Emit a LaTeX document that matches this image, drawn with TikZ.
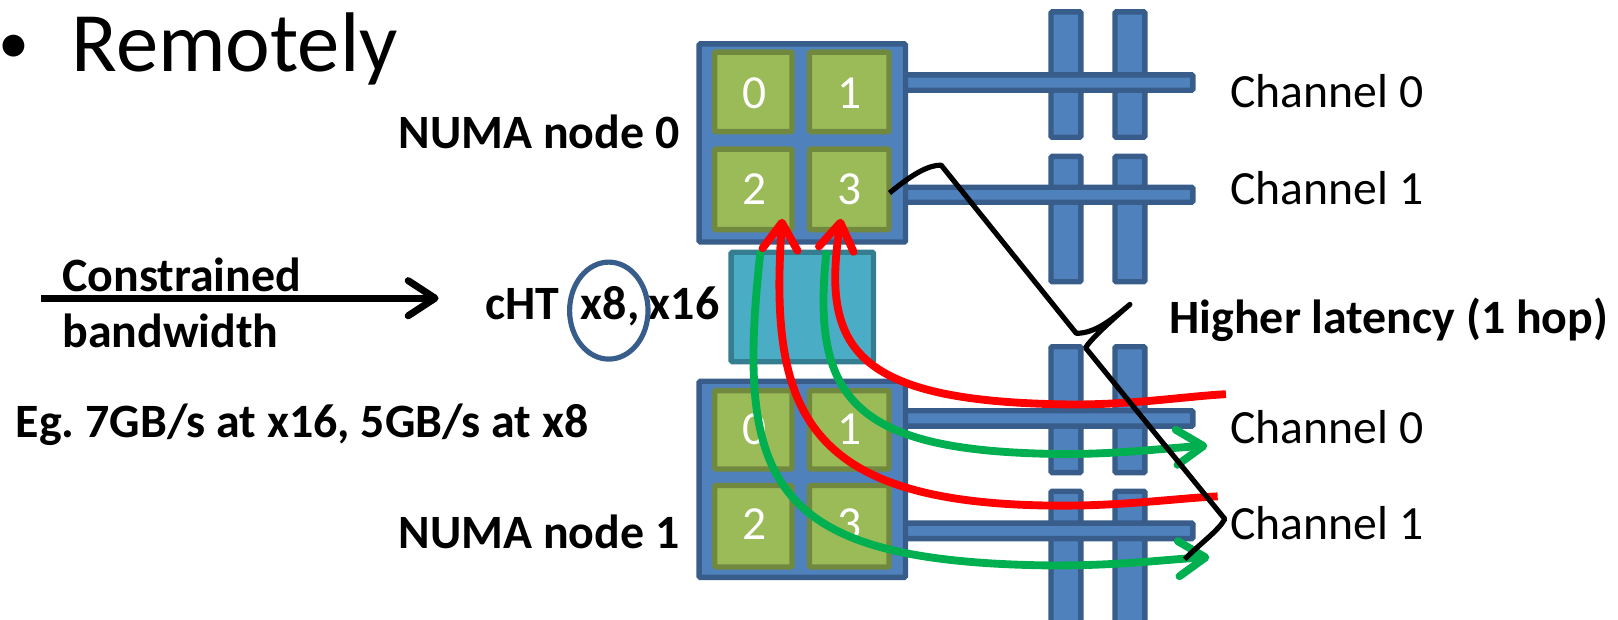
\documentclass[tikz,border=0pt]{standalone}
\usepackage{fontspec}
\setmainfont{Carlito}
\usetikzlibrary{arrows.meta,shapes.geometric}
\frenchspacing
\tikzset{
 lbl/.style={inner sep=0pt,anchor=base west,text=black,font=\fontsize{23.1}{27}\selectfont},
 blbl/.style={inner sep=0pt,anchor=base west,text=black,font=\bfseries\fontsize{23.2}{27}\selectfont},
 digit/.style={inner sep=0pt,anchor=center,text=white,font=\fontsize{23}{27}\selectfont},
 bluebar/.style={draw=barline,fill=barfill,line width=2.6pt,rounded corners=0.6pt},
 core/.style={draw=coreline,fill=corefill,line width=2.6pt,rounded corners=0.6pt},
 link/.style={draw=linkline,fill=linkfill,line width=2.6pt,rounded corners=0.6pt},
 redflow/.style={draw=redc,line width=3.8pt,{Straight Barb[length=13pt,width=17pt,round]}-},
 greenflow/.style={draw=greenc,line width=3.8pt,-{Straight Barb[length=13pt,width=17pt,round]}},
 bracepath/.style={draw=black,line width=2.5pt,line join=round},
}
\definecolor{barline}{HTML}{385D8A}
\definecolor{barfill}{HTML}{4F81BD}
\definecolor{coreline}{HTML}{71893F}
\definecolor{corefill}{HTML}{9BBB59}
\definecolor{linkline}{HTML}{357D91}
\definecolor{linkfill}{HTML}{4BACC6}
\definecolor{redc}{HTML}{FF0000}
\definecolor{greenc}{HTML}{00B050}
\begin{document}
\begin{tikzpicture}[x=0.5pt,y=-0.5pt]
\useasboundingbox (0,0) rectangle (1568,600.8);
% vertical memory bars
\foreach \xa/\xb in {1018.5/1047.5,1080.5/1109.5}{
 \foreach \ya/\yb in {11.5/133,151.5/273,336/458,476/612}{
  \draw[bluebar] (\xa,\ya) rectangle (\xb,\yb);
 }
}
% horizontal channels
\foreach \ya/\yb in {72.5/87.5,181.5/196,398/413,507/522}{
 \draw[bluebar] (875,\ya) rectangle (1156,\yb);
}
% NUMA boxes
\draw[bluebar] (677.5,42.5) rectangle (877.5,234.5);
\draw[bluebar] (677.5,369.5) rectangle (877.5,559.5);
\foreach \ya/\yb in {50.5/127.5,144.5/222.5,378.5/454.5,470.5/549.5}{
 \draw[core] (692.5,\ya) rectangle (767.5,\yb);
 \draw[core] (784.5,\ya) rectangle (861.5,\yb);
}
\draw[link] (708.5,244.5) rectangle (846.5,350.5);
% digits
\node[digit] (a0) at (731,90) {0};
\node[digit] (a1) at (823,90) {1};
\node[digit] (a2) at (731,183) {2};
\node[digit] (a3) at (823,183) {3};
\node[digit] (b0) at (731,416) {0};
\node[digit] (b1) at (823,416) {1};
\node[digit] (b2) at (731,508) {2};
\node[digit] (b3) at (823,508) {3};
% text
\node[inner sep=0pt,anchor=base west,font=\fontsize{30}{36}\selectfont] (title) at (-2,62) {•};
\node[inner sep=0pt,anchor=base west,font=\fontsize{41}{46}\selectfont] (remote) at (69,69) {Remotely};
\node[blbl] (numa0) at (386,143.5) {NUMA node 0};
\node[blbl] (numa1) at (386,532) {NUMA node 1};
\node[lbl] (ch0) at (1192,104) {Channel 0};
\node[lbl] (ch1) at (1192,198) {Channel 1};
\node[lbl] (ch2) at (1192,430) {Channel 0};
\node[lbl] (ch3) at (1192,523) {Channel 1};
\node[blbl] (hl) at (1133,323) {Higher latency (1 hop)};
\node[blbl] (con) at (60,282) {Constrained};
\node[blbl] (bw) at (60,337) {bandwidth};
\node[blbl] (cht) at (470,310) {cHT\hspace{10.5pt}x8,\hspace{4.5pt}x16};
\node[blbl] (eg) at (15,424) {Eg. 7GB/s at x16, 5GB/s at x8};
% ellipse
\node[draw=barline,line width=2.5pt,ellipse,minimum width=38pt,minimum height=47pt,inner sep=0pt] (ring) at (590,301) {};
% constrained arrow
\coordinate (cs) at (40,289);
\coordinate (ce) at (425,289);
\draw[black,line width=3.4pt,-{Straight Barb[length=13pt,width=17pt,round]}] (cs) -- (ce);
% green flows
\coordinate (g1s) at (737,243);
\coordinate (g1m) at (1020,548);
\coordinate (g1e) at (1172,540);
\coordinate (g2s) at (801,243);
\coordinate (g2m) at (1030,440);
\coordinate (g2e) at (1170,432);
\draw[greenflow] (g1s) .. controls (712,470) and (745,545) .. (g1m) .. controls (1090,548) and (1130,542) .. (g1e);
\draw[greenflow] (g2s) .. controls (785,390) and (830,438) .. (g2m) .. controls (1090,440) and (1130,434) .. (g2e);
% red flows
\coordinate (r1s) at (758,212);
\coordinate (r1m) at (1030,490);
\coordinate (r1e) at (1180,481);
\coordinate (r2s) at (815,212);
\coordinate (r2m) at (1040,392);
\coordinate (r2e) at (1188,382);
\draw[redflow] (r1s) .. controls (745,400) and (780,490) .. (r1m) .. controls (1090,490) and (1140,483) .. (r1e);
\draw[redflow] (r2s) .. controls (795,340) and (830,390) .. (r2m) .. controls (1100,392) and (1150,384) .. (r2e);
% brace
\coordinate (ba) at (862,187);
\coordinate (bb) at (912,160);
\coordinate (bc) at (1043,323);
\coordinate (bd) at (1095,295);
\coordinate (be) at (1052,337);
\coordinate (bf) at (1187,503);
\coordinate (bg) at (1148,542);
\draw[bracepath] (ba) .. controls (885,168) and (900,160) .. (bb) -- (bc) .. controls (1060,323) and (1075,312) .. (bd) .. controls (1075,312) and (1056,330) .. (be) -- (bf) .. controls (1180,515) and (1165,525) .. (bg);
\end{tikzpicture}
\end{document}
